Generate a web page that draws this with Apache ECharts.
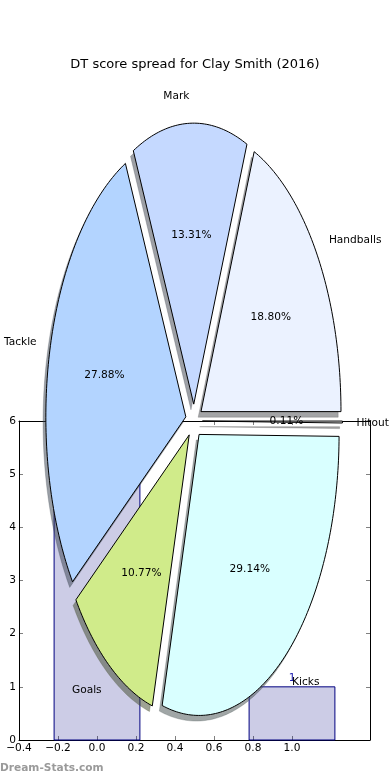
<!DOCTYPE html>
<html>
<head>
<meta charset="utf-8">
<script src="https://cdn.jsdelivr.net/npm/echarts@6/dist/echarts.min.js"></script>
<style>html,body{margin:0;padding:0;background:#fff;}#c{width:390px;height:780px;}</style>
</head>
<body>
<div id="c"></div>
<script>
// ---- data ----
const categories = ['Handballs', 'Mark', 'Tackle', 'Goals', 'Kicks', 'Hitout'];
const shares = [18.80, 13.31, 27.88, 10.77, 29.14, 0.11];
const barPositions = [0, 1];
const barValues = [6, 1];
const xTicks = [-0.4, -0.2, 0.0, 0.2, 0.4, 0.6, 0.8, 1.0];
const yTicks = [0, 1, 2, 3, 4, 5, 6];

// ---- styles ----
const sliceColors = ['#ebf2ff', '#c5d9ff', '#b3d4ff', '#d0eb8a', '#d9ffff', '#e8e8e8'];
const FONT = 'DejaVu Sans';
const explode = 0.06;
const barWidth = 0.44;

function hexToRgb(h) {
  const n = parseInt(h.slice(1), 16);
  return [(n >> 16) & 255, (n >> 8) & 255, n & 255];
}
const total = shares.reduce((a, b) => a + b, 0);
const starts = [];
{
  let acc = 0;
  shares.forEach(v => { starts.push(acc); acc += v; });
}

function renderSlice(params, api) {
  const i = params.dataIndex;
  const v = api.value(1);
  const t1 = starts[i] / total * 2 * Math.PI;
  const t2 = (starts[i] + v) / total * 2 * Math.PI;
  const tm = (t1 + t2) / 2;
  const ox = explode * Math.cos(tm), oy = explode * Math.sin(tm);
  const n = Math.max(2, Math.ceil((t2 - t1) / (Math.PI / 180)) + 1);
  const pts = [[ox, oy]];
  for (let k = 0; k < n; k++) {
    const t = t1 + (t2 - t1) * k / (n - 1);
    pts.push([ox + Math.cos(t), oy + Math.sin(t)]);
  }
  const wedge = pts.map(p => api.coord(p));
  const shadow = pts.map(p => api.coord([p[0] - 0.02, p[1] - 0.02]));
  const rgb = hexToRgb(sliceColors[i]);
  const sc = 'rgba(' + rgb.map(c => Math.round(c * 0.3)).join(',') + ',0.5)';
  const lx = ox + 1.1 * Math.cos(tm), ly = oy + 1.1 * Math.sin(tm);
  const px = ox + 0.6 * Math.cos(tm), py = oy + 0.6 * Math.sin(tm);
  const lp = api.coord([lx, ly]);
  const pp = api.coord([px, py]);
  const pct = (v / total * 100).toFixed(2) + '%';
  return {
    type: 'group',
    children: [
      { type: 'polygon', shape: { points: shadow }, z2: 2 * i,
        style: { fill: sc, stroke: sc, lineWidth: 0.5 } },
      { type: 'polygon', shape: { points: wedge }, z2: 2 * i + 1,
        style: { fill: sliceColors[i], stroke: '#000', lineWidth: 1 } },
      { type: 'text', x: lp[0], y: lp[1] + 1, z2: 100,
        style: { text: categories[i], fill: '#000', font: '10.6px "' + FONT + '"',
                 align: lx > 0 ? 'left' : 'right', verticalAlign: 'middle' } },
      { type: 'text', x: pp[0], y: pp[1], z2: 100,
        style: { text: pct, fill: '#000', font: '10.6px "' + FONT + '"',
                 align: 'center', verticalAlign: 'middle' } }
    ]
  };
}

function renderBar(params, api) {
  const x = api.value(0), h = api.value(1);
  const a = api.coord([x - barWidth / 2, h]);
  const b = api.coord([x + barWidth / 2, 0]);
  const t = api.coord([x, h * 1.05]);
  return {
    type: 'group',
    children: [
      { type: 'rect', shape: { x: a[0], y: a[1], width: b[0] - a[0], height: b[1] - a[1] },
        style: { fill: 'rgba(0,0,128,0.2)', stroke: '#000080', lineWidth: 1 } },
      { type: 'text', x: t[0], y: t[1],
        style: { text: String(h), fill: '#2020b0', font: '10.6px "' + FONT + '"',
                 align: 'center', verticalAlign: 'bottom' } }
    ]
  };
}

const fmt = v => (v < 0 ? '\u2212' : '') + Math.abs(v).toFixed(1);
const tickStyle = { show: true, inside: true, length: 4, lineStyle: { color: '#000', width: 0.5 } };
const lineStyle = { show: true, onZero: false, lineStyle: { color: '#000', width: 1 } };
const labelStyle = { color: '#000', fontFamily: FONT, fontSize: 10.6 };

const cx = 194, cy = 421, rx = 140, ry = 281;

const option = {
  animation: false,
  backgroundColor: '#fff',
  title: {
    text: 'DT score spread for Clay Smith (2016)',
    left: 'center', top: 53,
    textStyle: { fontFamily: FONT, fontSize: 13, fontWeight: 'normal', color: '#000' }
  },
  graphic: [{
    type: 'text', left: 0, top: 763,
    style: { text: 'Dream-Stats.com', fill: '#9a9a9a', font: 'bold 10.6px "' + FONT + '"' }
  }],
  grid: [
    { left: 19, right: 20, top: 421, bottom: 40 },
    { left: cx - rx, top: cy - ry, width: 2 * rx, height: 2 * ry }
  ],
  xAxis: [
    { gridIndex: 0, type: 'value', min: -0.4, max: 1.4, interval: 0.2, position: 'bottom',
      splitLine: { show: false }, axisLine: lineStyle,
      axisTick: Object.assign({ customValues: xTicks }, tickStyle),
      axisLabel: Object.assign({ customValues: xTicks, formatter: fmt, margin: 3 }, labelStyle) },
    { gridIndex: 0, type: 'value', min: -0.4, max: 1.4, interval: 0.2, position: 'top',
      splitLine: { show: false }, axisLine: lineStyle,
      axisTick: Object.assign({ customValues: xTicks }, tickStyle),
      axisLabel: { show: false } },
    { gridIndex: 1, type: 'value', min: -1, max: 1, show: false }
  ],
  yAxis: [
    { gridIndex: 0, type: 'value', min: 0, max: 6, interval: 1, position: 'left',
      splitLine: { show: false }, axisLine: lineStyle,
      axisTick: Object.assign({ customValues: yTicks }, tickStyle),
      axisLabel: Object.assign({ customValues: yTicks, margin: 3 }, labelStyle) },
    { gridIndex: 0, type: 'value', min: 0, max: 6, interval: 1, position: 'right',
      splitLine: { show: false }, axisLine: lineStyle,
      axisTick: Object.assign({ customValues: yTicks }, tickStyle),
      axisLabel: { show: false } },
    { gridIndex: 1, type: 'value', min: -1, max: 1, show: false }
  ],
  series: [
    { type: 'custom', xAxisIndex: 0, yAxisIndex: 0, z: 2, silent: true,
      renderItem: renderBar,
      data: barPositions.map((x, i) => [x, barValues[i]]) },
    { type: 'custom', xAxisIndex: 2, yAxisIndex: 2, z: 10, silent: true,
      renderItem: renderSlice,
      data: categories.map((c, i) => [i, shares[i]]) }
  ]
};

const chart = echarts.init(document.getElementById('c'), null, { renderer: 'canvas' });
chart.setOption(option);
</script>
</body>
</html>
